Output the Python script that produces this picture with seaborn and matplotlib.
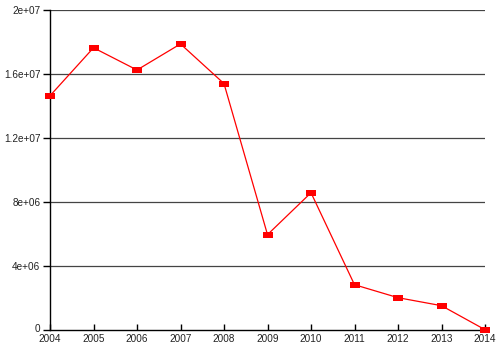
import matplotlib
matplotlib.use("Agg")
import matplotlib.pyplot as plt
import matplotlib.transforms as mtransforms
import seaborn as sns
import pandas as pd

years = [2004, 2005, 2006, 2007, 2008, 2009, 2010, 2011, 2012, 2013, 2014]
values = [14.64e6, 17.64e6, 16.25e6, 17.88e6, 15.40e6, 5.96e6, 8.58e6, 2.83e6, 2.02e6, 1.52e6, 0.02e6]
yticks = [0, 4e6, 8e6, 1.2e7, 1.6e7, 2e7]
ytick_labels = ["0", "4e+06", "8e+06", "1.2e+07", "1.6e+07", "2e+07"]

df = pd.DataFrame({"year": years, "value": values})

sns.set_style("white")
plt.rcParams['font.family'] = ['Liberation Sans', 'DejaVu Sans']

fig = plt.figure(figsize=(5, 3.5), dpi=100)
ax = fig.add_axes([0.1, 20/350, 0.87, 320/350])

rect = [(-1, -0.62), (1, -0.62), (1, 0.62), (-1, 0.62), (-1, -0.62)]
sns.lineplot(data=df, x="year", y="value", ax=ax, color="#ff0000", linewidth=0.9,
             marker=rect, markersize=7.5, markeredgewidth=0, markerfacecolor="#ff0000",
             clip_on=False, zorder=3)

ax.set_xlim(2004, 2014)
ax.set_ylim(0, 2e7)
ax.set_xticks(years)
ax.set_xticklabels([str(y) for y in years])
ax.set_yticks(yticks)
ax.set_yticklabels(ytick_labels)
ax.set_xlabel("")
ax.set_ylabel("")

for y in yticks[1:]:
    ax.axhline(y, color="#444444", linewidth=0.9, zorder=1)

for s in ["top", "right"]:
    ax.spines[s].set_visible(False)
for s in ["left", "bottom"]:
    ax.spines[s].set_color("black")
    ax.spines[s].set_linewidth(1)

ax.tick_params(axis="y", direction="out", length=5, width=1, color="black",
               labelsize=7.2, pad=2, labelcolor="#222222", left=True)
ax.tick_params(axis="x", direction="in", length=4, width=1, color="black",
               labelsize=7.2, pad=3, labelcolor="#222222", bottom=True)

# raise the "0" label slightly as in the reference
lbl0 = ax.get_yticklabels()[0]
lbl0.set_transform(lbl0.get_transform() + mtransforms.ScaledTranslation(0, 2/100, fig.dpi_scale_trans))

fig.savefig("out.png", dpi=100)
